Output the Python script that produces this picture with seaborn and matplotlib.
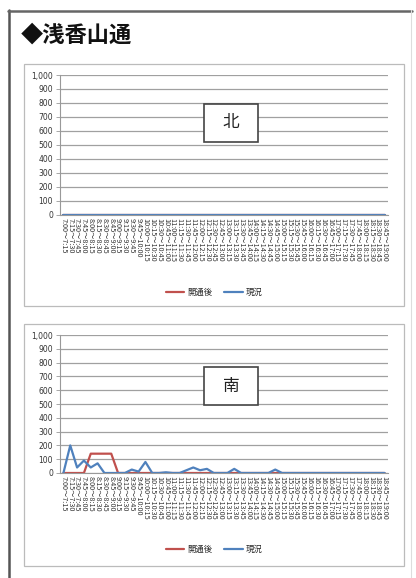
import matplotlib
matplotlib.use("Agg")
import matplotlib.pyplot as plt
from matplotlib.patches import Rectangle
from matplotlib.lines import Line2D
import numpy as np
import pandas as pd
import seaborn as sns

# 15-minute intervals, 7:00 to 19:00
hours = [h for h in range(7, 19) for _ in range(4)]
mins = [0, 15, 30, 45] * 12
time_labels = []
for h, m in zip(hours, mins):
    h2, m2 = (h, m + 15) if m < 45 else (h + 1, 0)
    time_labels.append(f"{h}:{m:02d}～{h2}:{m2:02d}")

series_names = ["開通後", "現況"]
series_colors = ["#c0504d", "#4f81bd"]

# 北 (north) direction
north_after = [0] * 48
north_now = [0] * 48

# 南 (south) direction
south_after = [0, 0, 0, 0, 140, 140, 140, 140, 0, 0, 0, 0,
               0, 0, 0, 0, 0, 0, 0, 0, 0, 0, 0, 0,
               0, 0, 0, 0, 0, 0, 0, 0, 0, 0, 0, 0,
               0, 0, 0, 0, 0, 0, 0, 0, 0, 0, 0, 0]
south_now = [0, 200, 40, 90, 40, 70, 0, 0, 0, 0, 25, 10,
             80, 0, 0, 5, 0, 0, 20, 40, 20, 30, 0, 0,
             0, 30, 0, 0, 0, 0, 0, 25, 0, 0, 0, 0,
             0, 0, 0, 0, 0, 0, 0, 0, 0, 0, 0, 0]

y_ticks = list(range(0, 1001, 100))
y_tick_labels = [f"{v:,}" for v in y_ticks]

sns.set_theme(style="white")
plt.rcParams["font.family"] = ["Noto Sans CJK JP", "DejaVu Sans"]

W, H = 416, 578
fig = plt.figure(figsize=(W / 100, H / 100), dpi=100)
fig.patch.set_facecolor("white")


def fx(x):
    return x / W


def fy(y):
    return 1 - y / H


# outer frame
fig.add_artist(Line2D([fx(9), fx(9)], [fy(10), fy(578)], color="#555555", lw=1.8,
                      transform=fig.transFigure))
fig.add_artist(Line2D([fx(8), fx(412)], [fy(11), fy(11)], color="#666666", lw=1.8,
                      transform=fig.transFigure))
fig.add_artist(Line2D([fx(411), fx(411)], [fy(10), fy(578)], color="#dddddd", lw=0.8,
                      transform=fig.transFigure))

fig.text(fx(21), fy(35), "◆浅香山通", fontsize=16, fontweight="bold",
         ha="left", va="center", color="#111111",
         family=["Noto Sans CJK JP", "DejaVu Sans"])


def panel(top, bottom, ax_top, ax_bottom, legend_y, label, box_top, after, now):
    fig.add_artist(Rectangle((fx(24), fy(bottom)), fx(404) - fx(24), fy(top) - fy(bottom),
                             transform=fig.transFigure, fill=False,
                             edgecolor="#bbbbbb", lw=0.9))
    ax = fig.add_axes([fx(60), fy(ax_bottom), fx(388) - fx(60), fy(ax_top) - fy(ax_bottom)])
    df = pd.DataFrame({
        "idx": list(range(48)) * 2,
        "value": list(after) + list(now),
        "series": [series_names[0]] * 48 + [series_names[1]] * 48,
    })
    sns.lineplot(data=df, x="idx", y="value", hue="series",
                 palette=dict(zip(series_names, series_colors)),
                 linewidth=1.6, ax=ax, legend=False, sort=False)
    ax.set_xlim(-0.5, 47.5)
    ax.set_ylim(0, 1000)
    ax.set_yticks(y_ticks)
    ax.set_yticklabels(y_tick_labels, fontsize=5.5, color="#333333",
                       family="DejaVu Sans")
    ax.set_xticks(range(48))
    ax.set_xticklabels(time_labels, rotation=270, fontsize=5.2, color="#333333",
                       va="top", ha="center")
    ax.set_xlabel("")
    ax.set_ylabel("")
    ax.grid(axis="y", color="#a0a0a0", lw=0.9)
    ax.set_axisbelow(True)
    for s in ["top", "right"]:
        ax.spines[s].set_visible(False)
    ax.spines["left"].set_color("#999999")
    ax.spines["left"].set_linewidth(0.8)
    ax.spines["bottom"].set_color("#999999")
    ax.spines["bottom"].set_linewidth(0.8)
    ax.tick_params(axis="y", length=3, width=0.6, color="#999999", pad=2, left=True)
    ax.tick_params(axis="x", length=0, pad=2)

    # direction label box
    fig.add_artist(Rectangle((fx(204), fy(box_top + 38)), fx(258) - fx(204), fy(box_top) - fy(box_top + 38),
                             transform=fig.transFigure, facecolor="white",
                             edgecolor="#444444", lw=1.2, zorder=5))
    fig.text(fx(231), fy(box_top + 19), label, fontsize=12, ha="center", va="center",
             color="#222222", zorder=6)

    handles = [Line2D([], [], color=c, lw=1.6) for c in series_colors]
    ax.legend(handles, series_names, loc="center", ncol=2, frameon=False,
              bbox_to_anchor=(fx(214), fy(legend_y)), bbox_transform=fig.transFigure,
              fontsize=6, handlelength=2.2, handletextpad=0.3, columnspacing=1.5)


panel(64, 306, 75, 215, 292, "北", 104, north_after, north_now)
panel(324, 566, 335, 473, 549, "南", 367, south_after, south_now)

fig.savefig("out.png", dpi=100, facecolor="white")
